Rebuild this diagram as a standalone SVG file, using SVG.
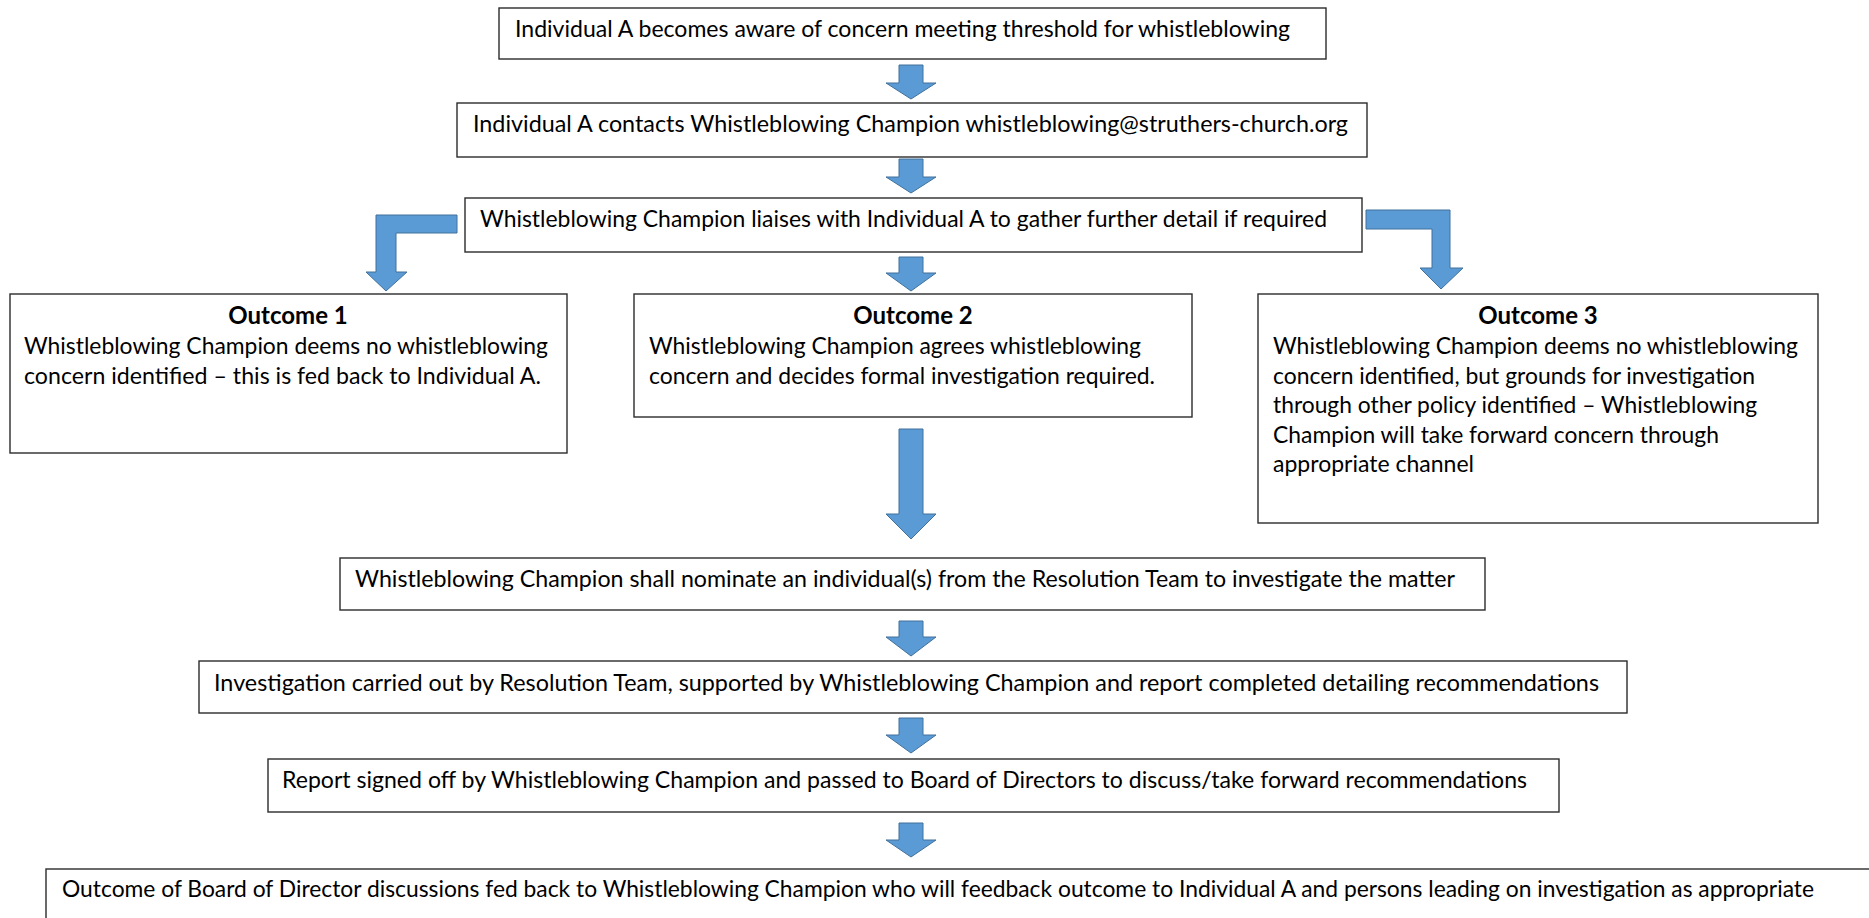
<svg xmlns="http://www.w3.org/2000/svg" width="1869" height="918" viewBox="0 0 1869 918">
<style>
.box{fill:#ffffff;stroke:#2b2b2b;stroke-width:1.4}
.arr{fill:#5b9bd5;stroke:#41719c;stroke-width:1}
text{font-family:Lato,"Liberation Sans",sans-serif;font-size:24px;fill:#000}
.h{font-weight:bold;text-anchor:middle}
</style>
<rect width="1869" height="918" fill="#ffffff"/>

<g id="connectors">
<path class="arr" d="M899,65 L923,65 L923,83 L936,83 L911,99 L886,83 L899,83 Z"/>
<path class="arr" d="M899,159 L923,159 L923,177 L936,177 L911,193 L886,177 L899,177 Z"/>
<path class="arr" d="M899,257 L923,257 L923,273 L936,273 L911,291 L886,273 L899,273 Z"/>
<path class="arr" d="M457,215 L376,215 L376,272 L366,272 L386,291 L407,272 L396,272 L396,233 L457,233 Z"/>
<path class="arr" d="M1366,210 L1450,210 L1450,268 L1463,268 L1441,289 L1420,268 L1432,268 L1432,229 L1366,229 Z"/>
<path class="arr" d="M899,429 L923,429 L923,514 L936,514 L911,539 L886,514 L899,514 Z"/>
<path class="arr" d="M899,621 L923,621 L923,637 L936,637 L911,656 L886,637 L899,637 Z"/>
<path class="arr" d="M899,718 L923,718 L923,735 L936,735 L911,753 L886,735 L899,735 Z"/>
<path class="arr" d="M899,823 L923,823 L923,840 L936,840 L911,857 L886,840 L899,840 Z"/>
</g>

<g id="n1">
<rect class="box" x="499" y="8" width="827" height="51"/>
<text x="515" y="37" textLength="775" lengthAdjust="spacingAndGlyphs">Individual A becomes aware of concern meeting threshold for whistleblowing</text>
</g>
<g id="n2">
<rect class="box" x="457" y="103" width="910" height="54"/>
<text x="473" y="132" textLength="875" lengthAdjust="spacingAndGlyphs">Individual A contacts Whistleblowing Champion whistleblowing@struthers-church.org</text>
</g>
<g id="n3">
<rect class="box" x="465" y="198" width="897" height="54"/>
<text x="480" y="227" textLength="847" lengthAdjust="spacingAndGlyphs">Whistleblowing Champion liaises with Individual A to gather further detail if required</text>
</g>
<g id="outcome1">
<rect class="box" x="10" y="294" width="557" height="159"/>
<text class="h" x="288" y="324">Outcome 1</text>
<text x="24" y="354" textLength="524" lengthAdjust="spacingAndGlyphs">Whistleblowing Champion deems no whistleblowing</text>
<text x="24" y="384" textLength="517" lengthAdjust="spacingAndGlyphs">concern identified – this is fed back to Individual A.</text>
</g>
<g id="outcome2">
<rect class="box" x="634" y="294" width="558" height="123"/>
<text class="h" x="913" y="324">Outcome 2</text>
<text x="649" y="354" textLength="492" lengthAdjust="spacingAndGlyphs">Whistleblowing Champion agrees whistleblowing</text>
<text x="649" y="384" textLength="506" lengthAdjust="spacingAndGlyphs">concern and decides formal investigation required.</text>
</g>
<g id="outcome3">
<rect class="box" x="1258" y="294" width="560" height="229"/>
<text class="h" x="1538" y="324">Outcome 3</text>
<text x="1273" y="354" textLength="525" lengthAdjust="spacingAndGlyphs">Whistleblowing Champion deems no whistleblowing</text>
<text x="1273" y="384" textLength="482" lengthAdjust="spacingAndGlyphs">concern identified, but grounds for investigation</text>
<text x="1273" y="413" textLength="484" lengthAdjust="spacingAndGlyphs">through other policy identified – Whistleblowing</text>
<text x="1273" y="443" textLength="446" lengthAdjust="spacingAndGlyphs">Champion will take forward concern through</text>
<text x="1273" y="472" textLength="201" lengthAdjust="spacingAndGlyphs">appropriate channel</text>
</g>
<g id="n4">
<rect class="box" x="340" y="558" width="1145" height="52"/>
<text x="355" y="587" textLength="1100" lengthAdjust="spacingAndGlyphs">Whistleblowing Champion shall nominate an individual(s) from the Resolution Team to investigate the matter</text>
</g>
<g id="n5">
<rect class="box" x="199" y="661" width="1428" height="52"/>
<text x="214" y="691" textLength="1385" lengthAdjust="spacingAndGlyphs">Investigation carried out by Resolution Team, supported by Whistleblowing Champion and report completed detailing recommendations</text>
</g>
<g id="n6">
<rect class="box" x="268" y="759" width="1291" height="53"/>
<text x="282" y="788" textLength="1245" lengthAdjust="spacingAndGlyphs">Report signed off by Whistleblowing Champion and passed to Board of Directors to discuss/take forward recommendations</text>
</g>
<g id="n7">
<rect class="box" x="46" y="869" width="1900" height="100"/>
<text x="62" y="897" textLength="1752" lengthAdjust="spacingAndGlyphs">Outcome of Board of Director discussions fed back to Whistleblowing Champion who will feedback outcome to Individual A and persons leading on investigation as appropriate</text>
</g>
</svg>
